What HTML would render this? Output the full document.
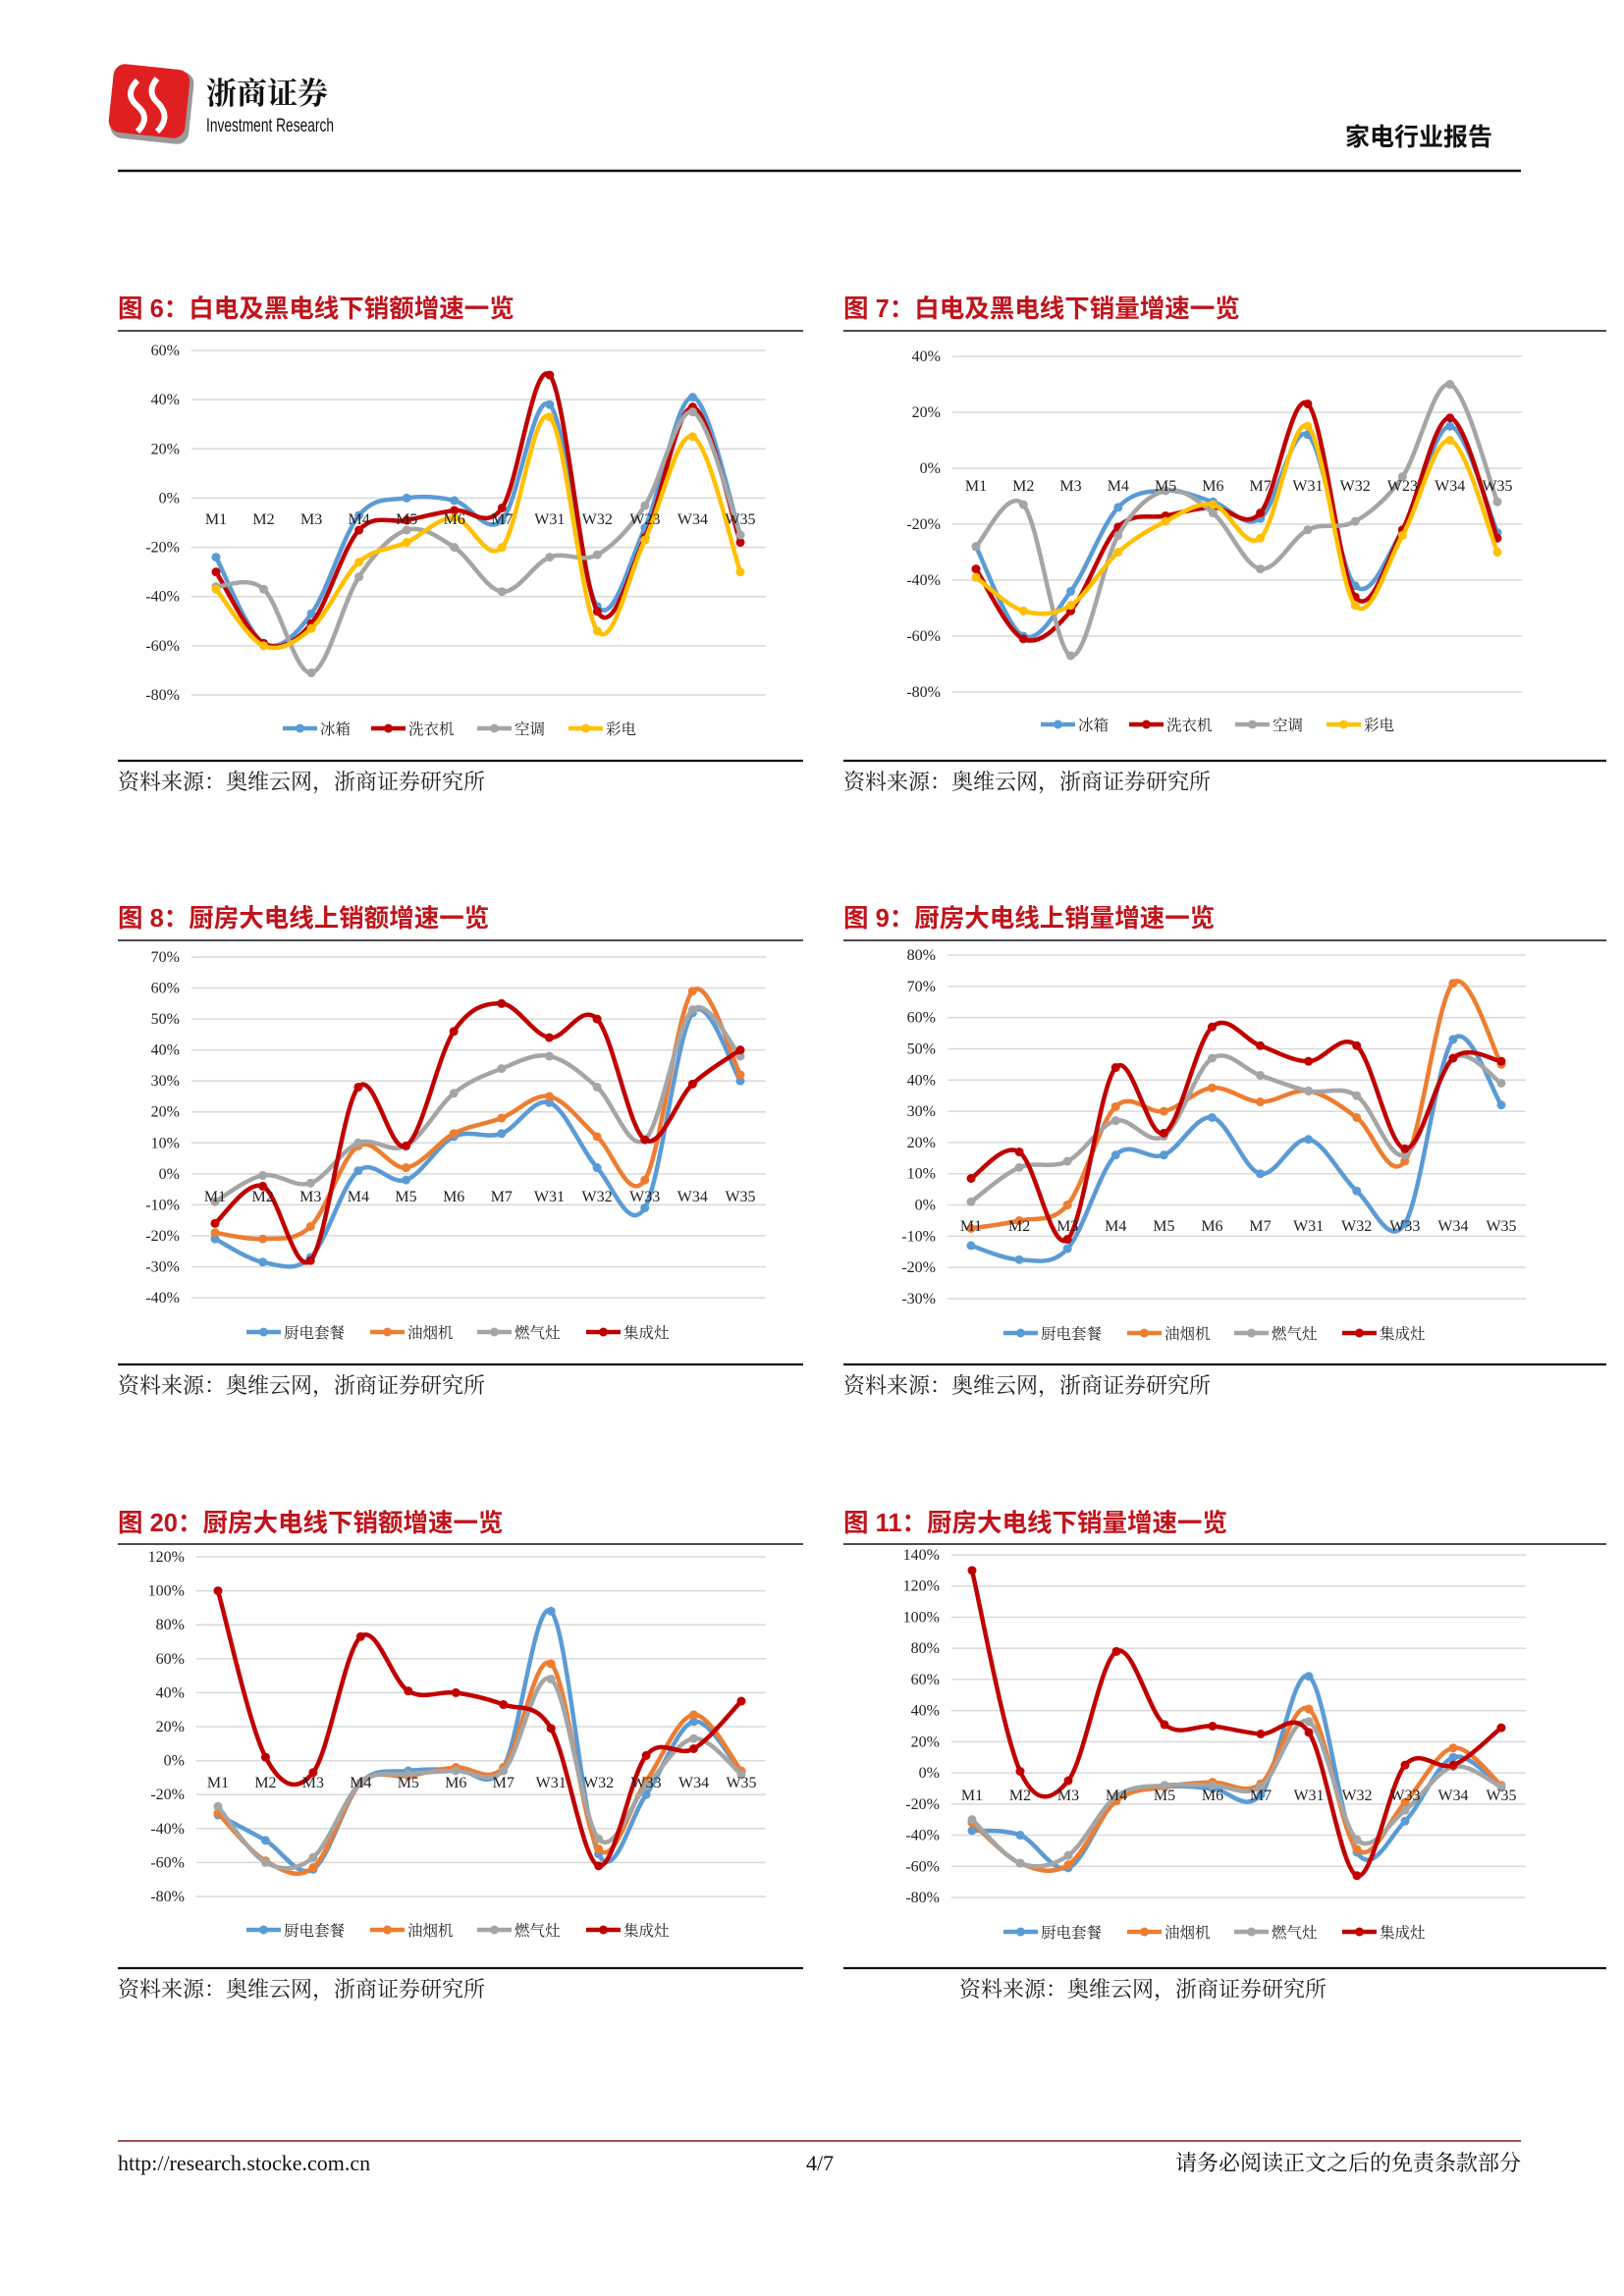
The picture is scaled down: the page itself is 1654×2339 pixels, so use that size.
<!DOCTYPE html>
<html><head><meta charset="utf-8"><style>
body{margin:0;background:#fff;}
svg{display:block;}
</style></head><body>
<svg id="page" width="1654" height="2339" viewBox="0 0 1654 2339" xmlns="http://www.w3.org/2000/svg">
<g>
 <g>
  <rect x="115" y="70" width="80" height="74" rx="12" fill="#9a9a9a" transform="rotate(6 155 107)"/>
  <rect x="113" y="68" width="78" height="70" rx="12" fill="#e02020" transform="rotate(6 152 103)"/>
  <path d="M140 82 q-14 14 0 26 q14 12 0 26 M160 80 q-12 14 2 26 q12 14 -2 28" stroke="#fff" stroke-width="6" fill="none"/>
 </g>
 <text x="210" y="106" font-family="'Noto Serif CJK SC',serif" font-size="31" font-weight="bold" fill="#111">浙商证券</text>
 <text x="210" y="134" font-family="'Liberation Sans Narrow','Liberation Sans',sans-serif" font-size="19" fill="#111" textLength="130" lengthAdjust="spacingAndGlyphs">Investment Research</text>
 <text x="1520" y="148" text-anchor="end" font-family="'Liberation Sans','Noto Sans CJK SC',sans-serif" font-size="25" font-weight="bold" fill="#111">家电行业报告</text>
 <line x1="120" y1="174" x2="1549" y2="174" stroke="#111" stroke-width="2.5"/>
</g>
<g id="charts"></g>
<g>
 <line x1="120" y1="2181" x2="1549" y2="2181" stroke="#7a1a1a" stroke-width="1.5"/>
 <text x="120" y="2211" font-family="'Liberation Serif',serif" font-size="22" fill="#111">http://research.stocke.com.cn</text>
 <text x="835" y="2211" text-anchor="middle" font-family="'Liberation Serif',serif" font-size="22" fill="#111">4/7</text>
 <text x="1549" y="2211" text-anchor="end" font-family="'Liberation Serif','Noto Serif CJK SC',serif" font-size="22" fill="#111">请务必阅读正文之后的免责条款部分</text>
</g>
</svg>
<script>
const categoriesA = ["M1","M2","M3","M4","M5","M6","M7","W31","W32","W23","W34","W35"];
const categoriesB = ["M1","M2","M3","M4","M5","M6","M7","W31","W32","W33","W34","W35"];
const seriesNamesA = ["冰箱","洗衣机","空调","彩电"];
const seriesNamesB = ["厨电套餐","油烟机","燃气灶","集成灶"];
const colorsA = ["#5B9BD5","#C00000","#A5A5A5","#FFC000"];
const colorsB = ["#5B9BD5","#ED7D31","#A5A5A5","#C00000"];

const fig6Fridge = [-24,-59,-47,-7,0,-1,-9,38,-44,-12,41,-15];
const fig6Washer = [-30,-59,-51,-13,-9,-5,-4,50,-46,-16,37,-18];
const fig6AirCon = [-36,-37,-71,-32,-13,-20,-38,-24,-23,-3,35,-15];
const fig6TV = [-37,-60,-53,-26,-18,-8,-20,33,-54,-17,25,-30];
const fig6Ticks = ["60%","40%","20%","0%","-20%","-40%","-60%","-80%"];

const fig7Fridge = [-28,-60,-44,-14,-8,-12,-18,12,-42,-22,15,-23];
const fig7Washer = [-36,-61,-51,-21,-17,-14,-16,23,-46,-22,18,-25];
const fig7AirCon = [-28,-13,-67,-24,-8,-16,-36,-22,-19,-3,30,-12];
const fig7TV = [-39,-51,-49,-30,-19,-13,-25,15,-49,-24,10,-30];
const fig7Ticks = ["40%","20%","0%","-20%","-40%","-60%","-80%"];

const fig8Suite = [-21,-28.5,-27,1,-2,12,13,23,2,-11,52,30];
const fig8Hood = [-19,-21,-17,9,2,13,18,25,12,-2,59,32];
const fig8Stove = [-9,-0.5,-3,10,9,26,34,38,28,11,53,38];
const fig8Integrated = [-16,-4,-28,28,9,46,55,44,50,11,29,40];
const fig8Ticks = ["70%","60%","50%","40%","30%","20%","10%","0%","-10%","-20%","-30%","-40%"];

const fig9Suite = [-13,-17.5,-14,16,16,28,10,21,4.5,-6,53,32];
const fig9Hood = [-7.5,-5,0,31.5,30,37.5,33,36.5,28,14,71,45];
const fig9Stove = [1,12,14,27,22,47,41.5,36.5,35,16,47,39];
const fig9Integrated = [8.5,17,-11,44,23,57,51,46,51,18,47,46];
const fig9Ticks = ["80%","70%","60%","50%","40%","30%","20%","10%","0%","-10%","-20%","-30%"];

const fig20Suite = [-32,-47,-64,-13,-6,-5,-4,88,-55,-20,23,-7];
const fig20Hood = [-31,-59,-63,-13,-9,-4,-4,57,-52,-12,27,-6];
const fig20Stove = [-27,-60,-57,-13,-8,-6,-6,48,-46,-15,13,-8];
const fig20Integrated = [100,2,-7,73,41,40,33,19,-62,3,7,35];
const fig20Ticks = ["120%","100%","80%","60%","40%","20%","0%","-20%","-40%","-60%","-80%"];

const fig11Suite = [-37,-40,-61,-17,-9,-10,-14,62,-51,-31,10,-9];
const fig11Hood = [-32,-58,-59,-18,-9,-6,-7,41,-49,-19,16,-8];
const fig11Stove = [-30,-58,-53,-15,-8,-8,-9,33,-43,-24,4,-9];
const fig11Integrated = [130,1,-5,78,31,30,25,26,-66,5,5,29];
const fig11Ticks = ["140%","120%","100%","80%","60%","40%","20%","0%","-20%","-40%","-60%","-80%"];

const NS="http://www.w3.org/2000/svg";
function mk(tag,attrs,parent){const e=document.createElementNS(NS,tag);for(const k in attrs)e.setAttribute(k,attrs[k]);if(parent)parent.appendChild(e);return e;}

const charts=[
 {id:"fig6",title:"图 6：白电及黑电线下销额增速一览",source:"资料来源：奥维云网，浙商证券研究所",fx0:120,fx1:818,titleY:323,lineY:337,bottomY:775,srcX:120,srcY:804,
  vmax:60,vmin:-80,yTop:357,yBot:708,gx0:195,gx1:780,cx0:220,cx1:754,labY:534,legY:742,legX:[288,378,486,579],
  ticks:fig6Ticks,cats:categoriesA,names:seriesNamesA,colors:colorsA,data:[fig6Fridge,fig6Washer,fig6AirCon,fig6TV]},
 {id:"fig7",title:"图 7：白电及黑电线下销量增速一览",source:"资料来源：奥维云网，浙商证券研究所",fx0:859,fx1:1636,titleY:323,lineY:337,bottomY:775,srcX:859,srcY:804,
  vmax:40,vmin:-80,yTop:363,yBot:705,gx0:970,gx1:1550,cx0:994,cx1:1525,labY:500,legY:738,legX:[1060,1150,1258,1351],
  ticks:fig7Ticks,cats:categoriesA,names:seriesNamesA,colors:colorsA,data:[fig7Fridge,fig7Washer,fig7AirCon,fig7TV]},
 {id:"fig8",title:"图 8：厨房大电线上销额增速一览",source:"资料来源：奥维云网，浙商证券研究所",fx0:120,fx1:818,titleY:944,lineY:958,bottomY:1390,srcX:120,srcY:1419,
  vmax:70,vmin:-40,yTop:975,yBot:1322,gx0:195,gx1:780,cx0:219,cx1:754,labY:1224,legY:1357,legX:[251,377,486,597],
  ticks:fig8Ticks,cats:categoriesB,names:seriesNamesB,colors:colorsB,data:[fig8Suite,fig8Hood,fig8Stove,fig8Integrated]},
 {id:"fig9",title:"图 9：厨房大电线上销量增速一览",source:"资料来源：奥维云网，浙商证券研究所",fx0:859,fx1:1636,titleY:944,lineY:958,bottomY:1390,srcX:859,srcY:1419,
  vmax:80,vmin:-30,yTop:973,yBot:1323,gx0:965,gx1:1554,cx0:989,cx1:1529,labY:1254,legY:1358,legX:[1022,1148,1257,1367],
  ticks:fig9Ticks,cats:categoriesB,names:seriesNamesB,colors:colorsB,data:[fig9Suite,fig9Hood,fig9Stove,fig9Integrated]},
 {id:"fig20",title:"图 20：厨房大电线下销额增速一览",source:"资料来源：奥维云网，浙商证券研究所",fx0:120,fx1:818,titleY:1560,lineY:1573,bottomY:2005,srcX:120,srcY:2034,
  vmax:120,vmin:-80,yTop:1586,yBot:1932,gx0:200,gx1:780,cx0:222,cx1:755,labY:1821,legY:1966,legX:[251,377,486,597],
  ticks:fig20Ticks,cats:categoriesB,names:seriesNamesB,colors:colorsB,data:[fig20Suite,fig20Hood,fig20Stove,fig20Integrated]},
 {id:"fig11",title:"图 11：厨房大电线下销量增速一览",source:"资料来源：奥维云网，浙商证券研究所",fx0:859,fx1:1636,titleY:1560,lineY:1573,bottomY:2005,srcX:977,srcY:2034,
  vmax:140,vmin:-80,yTop:1584,yBot:1933,gx0:969,gx1:1554,cx0:990,cx1:1529,labY:1834,legY:1968,legX:[1022,1148,1257,1367],
  ticks:fig11Ticks,cats:categoriesB,names:seriesNamesB,colors:colorsB,data:[fig11Suite,fig11Hood,fig11Stove,fig11Integrated]}
];

function smoothPath(pts){
 let d="M"+pts[0][0].toFixed(1)+" "+pts[0][1].toFixed(1);
 for(let i=0;i<pts.length-1;i++){
  const p0=pts[i-1]||pts[i],p1=pts[i],p2=pts[i+1],p3=pts[i+2]||p2;
  const t=1/3;
  const c1=[p1[0]+(p2[0]-p0[0])*t/2,p1[1]+(p2[1]-p0[1])*t/2];
  const c2=[p2[0]-(p3[0]-p1[0])*t/2,p2[1]-(p3[1]-p1[1])*t/2];
  d+=" C"+c1[0].toFixed(1)+" "+c1[1].toFixed(1)+" "+c2[0].toFixed(1)+" "+c2[1].toFixed(1)+" "+p2[0].toFixed(1)+" "+p2[1].toFixed(1);
 }
 return d;
}

const root=document.getElementById("charts");
charts.forEach(c=>{
 const g=mk("g",{},root);
 
 
 const yS=v=>c.yTop+(c.vmax-v)/(c.vmax-c.vmin)*(c.yBot-c.yTop);
 const xS=i=>c.cx0+i*(c.cx1-c.cx0)/(c.cats.length-1);
 const t=mk("text",{x:c.fx0,y:c.titleY,"font-family":"'Liberation Sans','Noto Sans CJK SC',sans-serif","font-size":"25.5","font-weight":"bold",fill:"#C0141C"},g);
 t.textContent=c.title;
 
 
 const l1=mk("line",{x1:c.fx0,y1:c.lineY,x2:c.fx1,y2:c.lineY,stroke:"#111","stroke-width":"1.6"},g);
 
 
 const l2=mk("line",{x1:c.fx0,y1:c.bottomY,x2:c.fx1,y2:c.bottomY,stroke:"#111","stroke-width":"2.2"},g);
 
 
 const s=mk("text",{x:c.srcX,y:c.srcY,"font-family":"'Noto Serif CJK SC',serif","font-size":"22",fill:"#222"},g);
 s.textContent=c.source;
 
 
 const step=(c.vmax-c.vmin)/(c.ticks.length-1);
 c.ticks.forEach((lab,i)=>{
  const v=c.vmax-i*step, y=yS(v);
  const gl=mk("line",{x1:c.gx0,y1:y,x2:c.gx1,y2:y,stroke:"#d9d9d9","stroke-width":"1.5"},g);
  
  
  const tt=mk("text",{x:c.gx0-12,y:y+5,"text-anchor":"end","font-family":"'Liberation Serif',serif","font-size":"16",fill:"#222"},g);
  tt.textContent=lab;
  
  
 });
 c.data.forEach((arr,si)=>{
  const pts=arr.map((v,i)=>[xS(i),yS(v)]);
  const p=mk("path",{d:smoothPath(pts),fill:"none",stroke:c.colors[si],"stroke-width":"4.5","stroke-linejoin":"round","stroke-linecap":"round"},g);
  
  
  pts.forEach(q=>{
   const m=mk("circle",{cx:q[0],cy:q[1],r:"4.5",fill:c.colors[si]},g);
   
   
  });
 });
 c.cats.forEach((lab,i)=>{
  const ct=mk("text",{x:xS(i),y:c.labY,"text-anchor":"middle","font-family":"'Liberation Serif',serif","font-size":"16",fill:"#222"},g);
  ct.textContent=lab;
  
  
 });
 c.names.forEach((n,si)=>{
  const lg=mk("g",{},g);
  
  
  const x=c.legX[si];
  mk("line",{x1:x,y1:c.legY,x2:x+35,y2:c.legY,stroke:c.colors[si],"stroke-width":"4.5"},lg);
  mk("circle",{cx:x+17.5,cy:c.legY,r:"4.5",fill:c.colors[si]},lg);
  const lt=mk("text",{x:x+38,y:c.legY+6,"font-family":"'Noto Serif CJK SC',serif","font-size":"15.5",fill:"#222"},lg);
  lt.textContent=n;
 });
});
</script>
</body></html>
